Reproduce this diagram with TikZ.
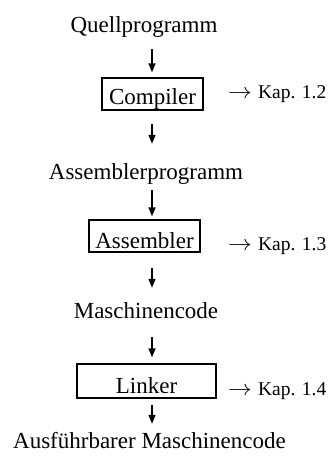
\documentclass[tikz,border=0pt]{standalone}
\usepackage{fontspec}
\usepackage{graphicx}
\setmainfont{Liberation Serif}
\usetikzlibrary{arrows.meta}
\newcommand{\kaparrow}{\scalebox{1.15}[1.05]{$\rightarrow$}}
\begin{document}
\begin{tikzpicture}[x=1pt,y=-1pt,
  txt/.style={inner sep=0pt, anchor=base, font=\fontsize{23}{26}\selectfont, text height=16pt, text depth=5pt},
  box/.style={draw, line width=1.3pt, inner sep=0pt, anchor=base, font=\fontsize{23}{26}\selectfont},
  kap/.style={inner sep=0pt, anchor=base west, font=\fontsize{19.5}{22}\selectfont},
  arr/.style={line width=1.4pt, -{Triangle[length=9pt,width=7pt]}}]
\fill[white] (0,0) rectangle (332,470);
\useasboundingbox (0,0) rectangle (332,470);
\coordinate (ax) at (152,0);
% texts
\node[txt] (q)  at (144,33)   {Quellprogramm};
\node[txt] (ap) at (146,179)  {Assemblerprogramm};
\node[txt] (m)  at (146,318)  {Maschinencode};
\node[txt] (a)  at (149.5,448) {Ausführbarer Maschinencode};
% boxes
\node[box, minimum width=101pt, text height=27pt, text depth=5pt] (c)  at (152.5,105) {Compiler};
\node[box, minimum width=111pt, text height=28pt, text depth=4pt] (as) at (144.5,248) {Assembler};
\node[box, minimum width=139pt, text height=29pt, text depth=5pt] (l)  at (146.5,393) {Linker};
% chapter references
\node[kap] (k2) at (228,99)  {\kaparrow\hspace{6pt}Kap. 1.2};
\node[kap] (k3) at (228,250) {\kaparrow\hspace{6pt}Kap. 1.3};
\node[kap] (k4) at (228,395) {\kaparrow\hspace{6pt}Kap. 1.4};
% arrows
\draw[arr, shorten <=11pt, shorten >=5pt]  (q.south -| ax)  -- (c.north -| ax);
\draw[arr, shorten <=13pt, shorten >=19pt] (c.south -| ax)  -- (ap.north -| ax);
\draw[arr, shorten <=6pt,  shorten >=3pt]  (ap.south -| ax) -- (as.north -| ax);
\draw[arr, shorten <=15pt, shorten >=14pt] (as.south -| ax) -- (m.north -| ax);
\draw[arr, shorten <=14pt, shorten >=6pt]  (m.south -| ax)  -- (l.north -| ax);
\draw[arr, shorten <=6pt,  shorten >=8pt]  (l.south -| ax)  -- (a.north -| ax);
\end{tikzpicture}
\end{document}
